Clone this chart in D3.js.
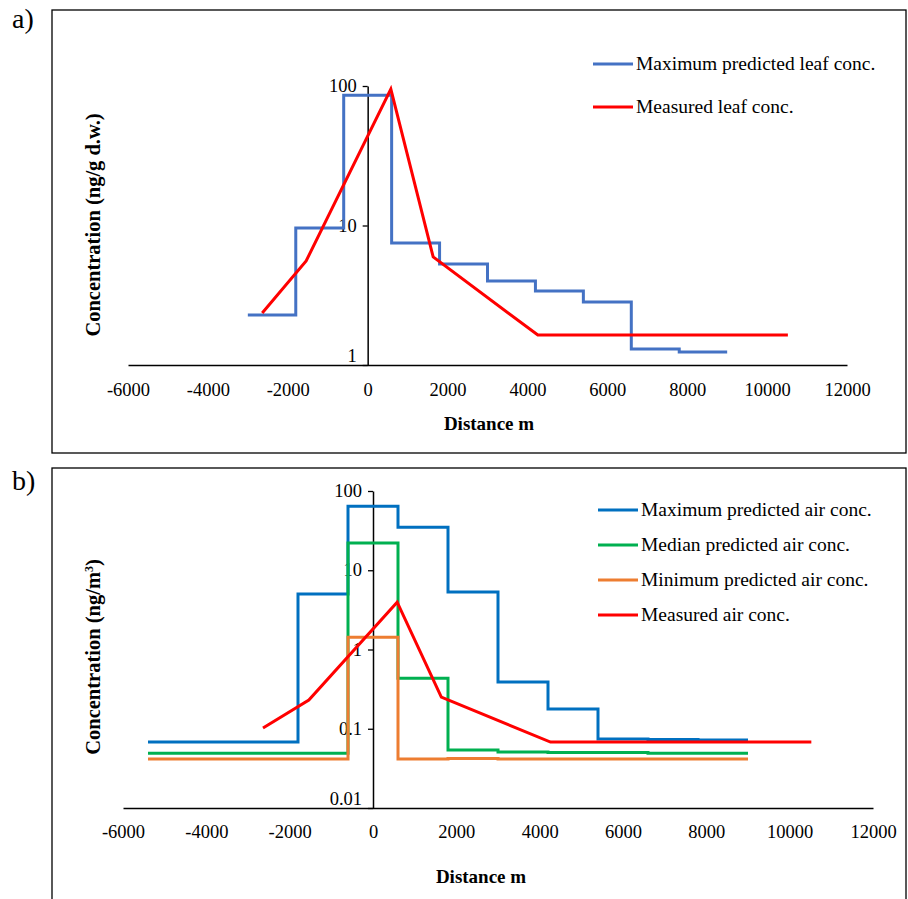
<!DOCTYPE html>
<html>
<head>
<meta charset="utf-8">
<script src="https://cdn.jsdelivr.net/npm/d3@7"></script>
<style>
  html, body { margin: 0; padding: 0; background: #fff; }
  svg { display: block; }
  text { font-family: "Liberation Serif", "Times New Roman", serif; fill: #000; }
</style>
</head>
<body>
<svg id="chart" width="908" height="899"></svg>
<script>
// ---- Panel a: leaf concentrations ----
const leafEdges = [-3000, -1800, -600, 600, 1800, 3000, 4200, 5400, 6600, 7800, 9000];
const leafMaxPredicted = [2.28, 9.6, 86, 7.5, 5.3, 4.0, 3.39, 2.83, 1.30, 1.24];
const leafMeasuredDist = [-2640, -1540, 580, 1640, 4260, 10520];
const leafMeasured = [2.36, 5.57, 95, 5.95, 1.64, 1.64];
const leafYTicks = [1, 10, 100];

// ---- Panel b: air concentrations ----
const airEdges = [-5400, -4200, -3000, -1800, -600, 600, 1800, 3000, 4200, 5400, 6600, 7800, 9000];
const airMaxPredicted = [0.068, 0.068, 0.068, 5.0, 64, 35, 5.3, 0.39, 0.177, 0.074, 0.073, 0.072];
const airMedianPredicted = [0.049, 0.049, 0.049, 0.049, 22, 0.435, 0.054, 0.051, 0.050, 0.050, 0.049, 0.049];
const airMinPredicted = [0.0415, 0.0415, 0.0415, 0.0415, 1.43, 0.0415, 0.042, 0.0415, 0.0415, 0.0415, 0.0415, 0.0415];
const airMeasuredDist = [-2640, -1540, 580, 1640, 4260, 10520];
const airMeasured = [0.102, 0.230, 3.96, 0.251, 0.068, 0.068];
const airYTicks = [0.01, 0.1, 1, 10, 100];

const xTicks = [-6000, -4000, -2000, 0, 2000, 4000, 6000, 8000, 10000, 12000];

const svg = d3.select("#chart");

// turn a list of bin edges + bin values into step points
function stepPoints(edges, values) {
  const pts = values.map((v, i) => [edges[i], v]);
  pts.push([edges[edges.length - 1], values[values.length - 1]]);
  return pts;
}

function drawPanel(cfg) {
  const g = svg.append("g");

  // panel frame
  g.append("rect")
    .attr("x", cfg.frame[0]).attr("y", cfg.frame[1])
    .attr("width", cfg.frame[2]).attr("height", cfg.frame[3])
    .attr("fill", "none").attr("stroke", "#000").attr("stroke-width", 1.3);

  g.append("text")
    .attr("x", 12).attr("y", cfg.tagY)
    .style("font-size", "28px")
    .text(cfg.tag);

  const x = d3.scaleLinear().domain([-6000, 12000]).range(cfg.xRange);
  const y = d3.scaleLog().domain(cfg.yDomain).range(cfg.yRange);

  // x axis (no tick marks, crosses at the bottom of the log axis)
  const xAxis = g.append("g")
    .attr("transform", `translate(0,${cfg.yRange[0]})`)
    .call(d3.axisBottom(x).tickValues(xTicks).tickSize(0).tickSizeOuter(0).tickPadding(0)
      .tickFormat(d => String(d)));
  xAxis.select(".domain").attr("stroke", "#000").attr("stroke-width", 1.5);
  xAxis.selectAll("text")
    .attr("y", cfg.xLabelBaseline - cfg.yRange[0]).attr("dy", null)
    .style("font-size", "18.5px").style("font-family", "Liberation Serif");

  // y axis at distance 0
  const yAxis = g.append("g")
    .attr("transform", `translate(${x(0)},0)`)
    .call(d3.axisLeft(y).tickValues(cfg.yTicks).tickSize(5).tickSizeOuter(0).tickPadding(6)
      .tickFormat(d => String(d)));
  yAxis.select(".domain").attr("stroke", "#000").attr("stroke-width", 1.5);
  yAxis.selectAll(".tick line").attr("stroke", "#000").attr("stroke-width", 1.3);
  yAxis.selectAll("text")
    .attr("dy", (d, i) => i === 0 ? "-0.2em" : "0.3em")
    .style("font-size", "18.5px").style("font-family", "Liberation Serif");

  // series
  const stepLine = d3.line().x(d => x(d[0])).y(d => y(d[1])).curve(d3.curveStepAfter);
  const straightLine = d3.line().x(d => x(d[0])).y(d => y(d[1]));

  cfg.series.forEach(s => {
    const pts = s.step ? stepPoints(s.edges, s.values) : s.dist.map((d, i) => [d, s.values[i]]);
    g.append("path")
      .attr("d", (s.step ? stepLine : straightLine)(pts))
      .attr("fill", "none")
      .attr("stroke", s.color)
      .attr("stroke-width", 3)
      .attr("stroke-linejoin", "miter");
  });

  // legend
  cfg.series.forEach((s, i) => {
    const ly = cfg.legend.y0 + i * cfg.legend.dy;
    g.append("line")
      .attr("x1", cfg.legend.x).attr("x2", cfg.legend.x + 40)
      .attr("y1", ly).attr("y2", ly)
      .attr("stroke", s.color).attr("stroke-width", 3);
    g.append("text")
      .attr("x", cfg.legend.x + 43).attr("y", ly).attr("dy", "0.33em")
      .style("font-size", "19.5px")
      .text(s.name);
  });

  // axis titles
  g.append("text")
    .attr("x", cfg.xTitle[0]).attr("y", cfg.xTitle[1])
    .attr("text-anchor", "middle")
    .style("font-size", "19px").style("font-weight", "bold")
    .text("Distance m");

  const yt = g.append("text")
    .attr("transform", `translate(${cfg.yTitle[0]},${cfg.yTitle[1]}) rotate(-90)`)
    .attr("text-anchor", "middle")
    .attr("dy", "0.33em")
    .style("font-size", cfg.yTitleSize).style("font-weight", "bold");
  cfg.yTitleParts(yt);
}

drawPanel({
  tag: "a)", tagY: 28,
  frame: [52, 10, 854, 443],
  xRange: [128, 847], yDomain: [1, 100], yRange: [365, 86],
  yTicks: leafYTicks, xLabelBaseline: 396,
  xTitle: [489, 430], yTitle: [93, 225], yTitleSize: "20.5px",
  yTitleParts: t => t.text("Concentration (ng/g d.w.)"),
  legend: { x: 593, y0: 64, dy: 43 },
  series: [
    { name: "Maximum predicted leaf conc.", color: "#4472C4", step: true, edges: leafEdges, values: leafMaxPredicted },
    { name: "Measured leaf conc.", color: "#FF0000", step: false, dist: leafMeasuredDist, values: leafMeasured }
  ]
});

drawPanel({
  tag: "b)", tagY: 490,
  frame: [52, 468, 854, 440],
  xRange: [123, 873], yDomain: [0.01, 100], yRange: [808, 491],
  yTicks: airYTicks, xLabelBaseline: 838,
  xTitle: [481, 883], yTitle: [93, 657], yTitleSize: "20.5px",
  yTitleParts: t => {
    t.append("tspan").text("Concentration (ng/m");
    t.append("tspan").attr("baseline-shift", "super").style("font-size", "12px").text("3");
    t.append("tspan").text(")");
  },
  legend: { x: 598, y0: 510, dy: 35 },
  series: [
    { name: "Maximum predicted air conc.", color: "#0070C0", step: true, edges: airEdges, values: airMaxPredicted },
    { name: "Median predicted air conc.", color: "#00B050", step: true, edges: airEdges, values: airMedianPredicted },
    { name: "Minimum predicted air conc.", color: "#ED7D31", step: true, edges: airEdges, values: airMinPredicted },
    { name: "Measured air conc.", color: "#FF0000", step: false, dist: airMeasuredDist, values: airMeasured }
  ]
});
</script>
</body>
</html>
